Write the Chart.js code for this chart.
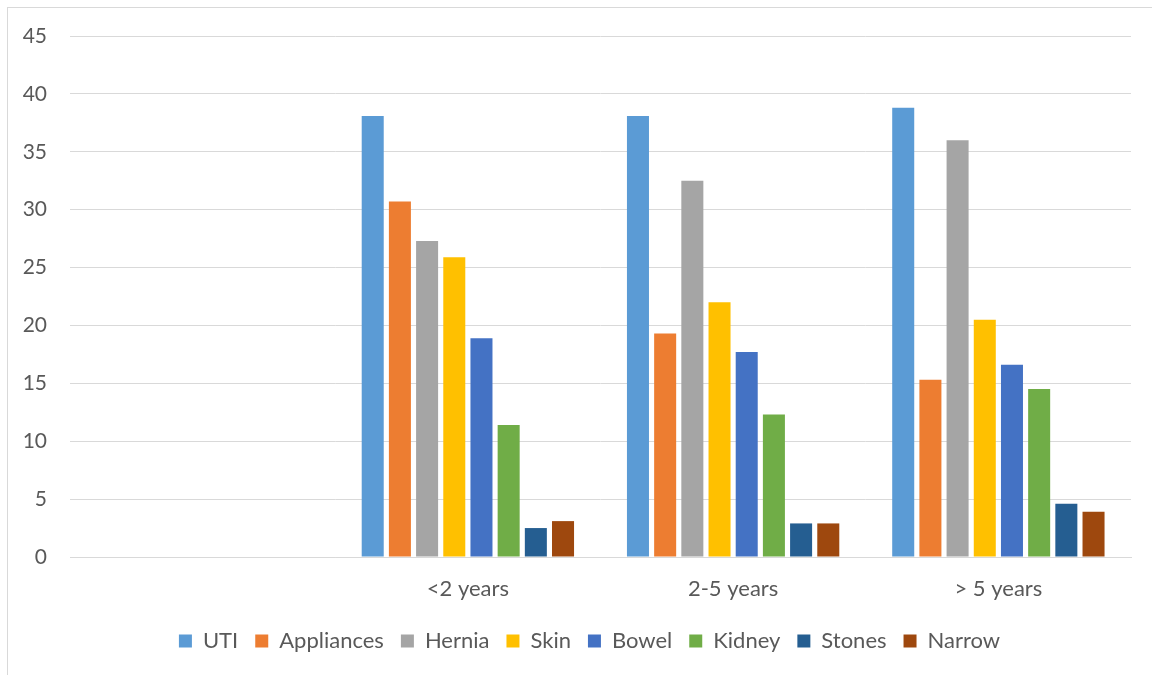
<!DOCTYPE html>
<html>
<head>
<meta charset="utf-8">
<script src="https://cdn.jsdelivr.net/npm/chart.js@4"></script>
<style>
  html, body { margin: 0; padding: 0; background: #fff; }
  #frame {
    position: absolute; left: 7px; top: 7px; width: 1160px; height: 680px;
    border: 1px solid #d9d9d9; box-sizing: border-box;
  }
  #wrap { position: absolute; left: 0; top: 0; width: 1152px; height: 675px; }
</style>
</head>
<body>
<div id="frame"></div>
<div id="wrap"><canvas id="chart"></canvas></div>
<script>
// categories (first slot is empty in the original)
const categories = ['', '<2 years', '2-5 years', '> 5 years'];

const uti        = [null, 38.1, 38.1, 38.8];
const appliances = [null, 30.7, 19.3, 15.3];
const hernia     = [null, 27.3, 32.5, 36.0];
const skin       = [null, 25.9, 22.0, 20.5];
const bowel      = [null, 18.9, 17.7, 16.6];
const kidney     = [null, 11.4, 12.3, 14.5];
const stones     = [null, 2.5, 2.9, 4.6];
const narrow     = [null, 3.1, 2.9, 3.9];

const yTicks = [0, 5, 10, 15, 20, 25, 30, 35, 40, 45];

const textColor = '#595959';
const fontFamily = 'Lato, "Open Sans", sans-serif';

const ds = (label, data, color) => ({
    label: label,
    data: data,
    backgroundColor: color,
    borderWidth: 0
});

// legend sits a bit right of the canvas centre in the original
const legendShift = {
    id: 'legendShift',
    afterLayout(chart) {
        const lg = chart.legend;
        if (lg) { lg.left += 24; lg.right += 24; }
    }
};

new Chart(document.getElementById('chart').getContext('2d'), {
    type: 'bar',
    data: {
        labels: categories,
        datasets: [
            ds('UTI', uti, '#5B9BD5'),
            ds('Appliances', appliances, '#ED7D31'),
            ds('Hernia', hernia, '#A5A5A5'),
            ds('Skin', skin, '#FFC000'),
            ds('Bowel', bowel, '#4472C4'),
            ds('Kidney', kidney, '#70AD47'),
            ds('Stones', stones, '#255E91'),
            ds('Narrow', narrow, '#9E480E')
        ]
    },
    plugins: [legendShift],
    options: {
        responsive: true,
        maintainAspectRatio: false,
        animation: false,
        layout: { padding: { top: 36, right: 21, bottom: 13, left: 0 } },
        datasets: {
            bar: { categoryPercentage: 0.82, barPercentage: 0.81 }
        },
        plugins: {
            tooltip: { enabled: false },
            legend: {
                position: 'bottom',
                labels: {
                    color: textColor,
                    font: { family: fontFamily, size: 22 },
                    boxWidth: 13,
                    boxHeight: 13,
                    padding: 17
                }
            }
        },
        scales: {
            x: {
                grid: { display: false },
                border: { color: '#d9d9d9', width: 1 },
                ticks: {
                    color: textColor,
                    font: { family: fontFamily, size: 22 },
                    padding: 11,
                    maxRotation: 0
                },
                afterFit: (axis) => { axis.height = 56; }
            },
            y: {
                min: 0,
                max: 45,
                afterBuildTicks: (axis) => { axis.ticks = yTicks.map(v => ({ value: v })); },
                grid: { color: '#d9d9d9', lineWidth: 1, drawTicks: false },
                border: { display: false },
                ticks: {
                    color: textColor,
                    font: { family: fontFamily, size: 21 },
                    padding: 23
                },
                afterFit: (axis) => { axis.width = 70; }
            }
        }
    }
});
</script>
</body>
</html>
